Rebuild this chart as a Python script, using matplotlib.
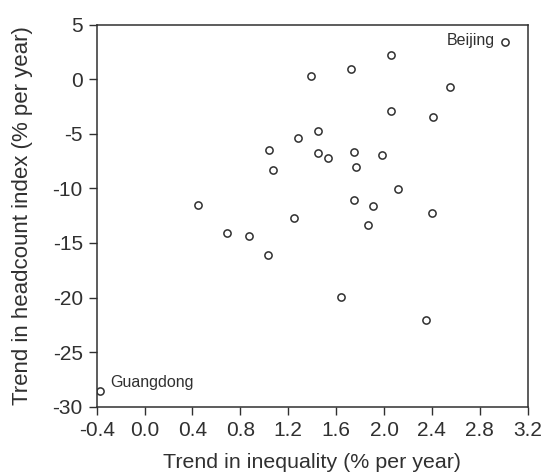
import matplotlib.pyplot as plt

plt.rcParams['font.family'] = ['Liberation Sans', 'DejaVu Sans']

# trend in inequality (% per year) vs trend in headcount index (% per year)
inequality = [3.01, 2.06, 1.72, 1.39, 2.55, 2.06, 2.41, 1.45, 1.28, 1.04,
              1.45, 1.53, 1.75, 1.98, 1.07, 1.77, 0.45, 2.12, 1.75, 1.91,
              2.40, 1.25, 1.87, 0.69, 0.87, 1.03, 1.64, 2.35, -0.37]
headcount = [3.41, 2.19, 0.91, 0.33, -0.68, -2.94, -3.43, -4.72, -5.41, -6.51,
             -6.79, -7.19, -6.70, -6.91, -8.29, -8.02, -11.53, -10.06, -11.04, -11.65,
             -12.29, -12.72, -13.33, -14.12, -14.37, -16.08, -19.99, -22.07, -28.55]
labels = {0: 'Beijing', 28: 'Guangdong'}

xticks = [-0.4, 0.0, 0.4, 0.8, 1.2, 1.6, 2.0, 2.4, 2.8, 3.2]
yticks = [5, 0, -5, -10, -15, -20, -25, -30]

ink = '#303030'

fig = plt.figure(figsize=(5.42, 4.75), dpi=100)
ax = fig.add_axes([0.1784, 0.1438, 0.7952, 0.8042])

ax.plot(inequality, headcount, linestyle='none', marker='o', markersize=5.2,
        markerfacecolor='white', markeredgecolor=ink, markeredgewidth=1.1)

ax.annotate(labels[0], (inequality[0], headcount[0]), xytext=(-7, 1),
            textcoords='offset points', ha='right', va='center',
            fontsize=11.5, color=ink)
ax.annotate(labels[28], (inequality[28], headcount[28]), xytext=(7, 6),
            textcoords='offset points', ha='left', va='center',
            fontsize=11.5, color=ink)

ax.set_xlim(-0.4, 3.2)
ax.set_ylim(-30, 5)
ax.set_xticks(xticks)
ax.set_xticklabels([f'{t:.1f}' for t in xticks])
ax.set_yticks(yticks)
ax.set_yticklabels([str(t) for t in yticks])

ax.tick_params(direction='out', length=6, width=1.0, color=ink,
               labelsize=15, labelcolor=ink, pad=4)
for s in ax.spines.values():
    s.set_color(ink)
    s.set_linewidth(1.1)

ax.set_xlabel('Trend in inequality (% per year)', fontsize=15.4, color=ink, labelpad=10)
ax.set_ylabel('Trend in headcount index (% per year)', fontsize=16, color=ink, labelpad=14)

plt.savefig('out.png', dpi=100)
